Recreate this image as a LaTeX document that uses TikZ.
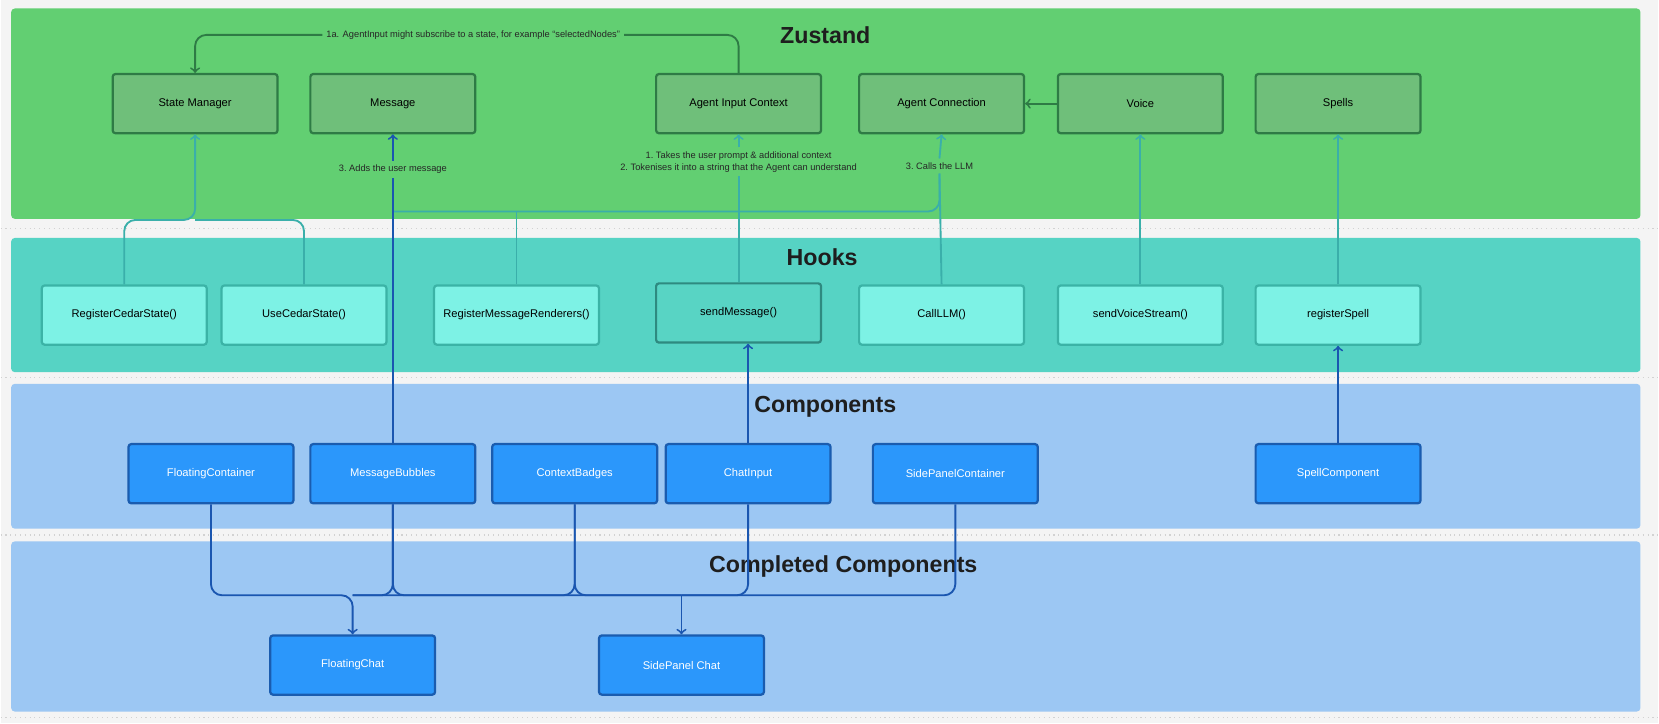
\documentclass[tikz,border=0pt]{standalone}
\usepackage{fontspec}
\setmainfont{Liberation Sans}
\usepackage{tikz}
\usepackage{xcolor}

\definecolor{bgcol}{HTML}{F4F4F4}
\definecolor{bandgreen}{HTML}{62CF72}
\definecolor{bandteal}{HTML}{56D3C4}
\definecolor{bandblue}{HTML}{9CC7F3}
\definecolor{zfill}{HTML}{6FBF7A}
\definecolor{zline}{HTML}{2E7B45}
\definecolor{hfill}{HTML}{7DF2E5}
\definecolor{hline}{HTML}{3BB3A6}
\definecolor{sfill}{HTML}{58D4C4}
\definecolor{sline}{HTML}{2E8A80}
\definecolor{cfill}{HTML}{2B97FB}
\definecolor{cline}{HTML}{1A5CAF}
\definecolor{tealline}{HTML}{3AAFAA}
\definecolor{blueline}{HTML}{1A56B0}
\definecolor{titlecol}{HTML}{1E1E1E}

\begin{document}
\begin{tikzpicture}[x=0.02cm, y=-0.02cm,
  box/.style={draw, rounded corners=1.5pt, line width=1.2pt, minimum width=3.12cm, minimum height=1.12cm, font=\fontsize{6}{7}\selectfont},
  zus/.style={box, fill=zfill, draw=zline},
  hook/.style={box, fill=hfill, draw=hline},
  comp/.style={box, fill=cfill, draw=cline, text=white},
  title/.style={font=\bfseries\fontsize{12.5}{14}\selectfont, text=titlecol},
  lbl/.style={font=\fontsize{5}{6.5}\selectfont, text=black!85, align=center, inner sep=2pt},
  gl/.style={draw=zline, line width=1pt, rounded corners=6pt},
  tl/.style={draw=tealline, line width=1pt, rounded corners=6pt},
  bl/.style={draw=blueline, line width=1pt, rounded corners=6pt}]

% background and bands
\fill[bgcol] (0,0) rectangle (1568,684);
\foreach \y in {216,357,506,679}
  \draw[gray!35, dotted, line width=0.6pt] (0,\y) -- (1568,\y);
\fill[bandgreen, rounded corners=2pt] (10,8) rectangle (1551,207);
\fill[bandteal, rounded corners=2pt] (10,225) rectangle (1551,352);
\fill[bandblue, rounded corners=2pt] (10,363) rectangle (1551,500);
\fill[bandblue, rounded corners=2pt] (10,512) rectangle (1551,673);

\node[title] (tzus) at (780,33) {Zustand};
\node[title] (thooks) at (777,243) {Hooks};
\node[title] (tcomp) at (780,385) {Components};
\node[title] (tdone) at (797,536) {Completed Components};

% zustand
\node[zus] (sm) at (184,98) {State Manager};
\node[zus] (msg) at (371,98) {Message};
\node[zus] (aic) at (698,98) {Agent Input Context};
\node[zus] (acon) at (890,98) {Agent Connection};
\node[zus] (voice) at (1078,98) {Voice};
\node[zus] (spells) at (1265,98) {Spells};

% hooks
\node[hook] (rcs) at (117,298) {RegisterCedarState()};
\node[hook] (ucs) at (287,298) {UseCedarState()};
\node[hook] (rmr) at (488,298) {RegisterMessageRenderers()};
\node[box, fill=sfill, draw=sline] (send) at (698,296) {sendMessage()};
\node[hook] (llm) at (890,298) {CallLLM()};
\node[hook] (vstream) at (1078,298) {sendVoiceStream()};
\node[hook] (rspell) at (1265,298) {registerSpell};

% components
\node[comp] (fcont) at (199,448) {FloatingContainer};
\node[comp] (bubbles) at (371,448) {MessageBubbles};
\node[comp] (badges) at (543,448) {ContextBadges};
\node[comp] (cinput) at (707,448) {ChatInput};
\node[comp] (spcont) at (903,448) {SidePanelContainer};
\node[comp] (scomp) at (1265,448) {SpellComponent};

\node[comp] (fchat) at (333,629) {FloatingChat};
\node[comp] (spchat) at (644,629) {SidePanel Chat};

% labels
\node[lbl] (lsub) at (447,33) {1a. AgentInput might subscribe to a state, for example ``selectedNodes''};
\node[lbl] (ladd) at (371,160) {3.\ Adds the user message};
\node[lbl] (ltok) at (698,153) {1.\ Takes the user prompt \& additional context\\2.\ Tokenises it into a string that the Agent can understand};
\node[lbl] (lllm) at (888,157) {3.\ Calls the LLM};

\coordinate (hbus) at (0,208);
\coordinate (tbus) at (0,200);
\coordinate (cbus) at (0,563);

% zustand arrows
\draw[gl] (aic.north) |- (lsub.east);
\draw[gl,->] (lsub.west) -| (sm.north);
\draw[gl,->] (voice.west) -- (acon.east);

% hooks to zustand
\draw[tl,->] (rcs.north) |- (hbus -| sm.south) -- (sm.south);
\draw[tl] (ucs.north) |- (hbus -| sm.south);
\draw[tl] (ladd.south |- tbus) -| (lllm.south);
\draw[tl] (rmr.north) -- (rmr.north |- tbus);
\draw[tl] (send.north) -- (ltok.south);
\draw[tl,->] (ltok.north) -- (aic.south);
\draw[tl] (llm.north) -- (lllm.south);
\draw[tl,->] (lllm.north) -- (acon.south);
\draw[tl,->] (vstream.north) -- (voice.south);
\draw[tl,->] (rspell.north) -- (spells.south);

% components up
\draw[bl] (bubbles.north) -- (ladd.south);
\draw[bl,->] (ladd.north) -- (msg.south);
\draw[bl,->] (cinput.north) -- (cinput.north |- send.south);
\draw[bl,->] (scomp.north) -- (rspell.south);

% components down
\draw[bl,->] (fcont.south) |- (cbus -| fchat.north) -- (fchat.north);
\draw[bl] (bubbles.south) |- (cbus -| fchat.north);
\draw[bl] (badges.south) |- (cbus -| fchat.north);
\draw[bl] (bubbles.south) |- (cbus -| spchat.north);
\draw[bl] (badges.south) |- (cbus -| spchat.north);
\draw[bl] (cinput.south) |- (cbus -| spchat.north);
\draw[bl] (spcont.south) |- (cbus -| spchat.north);
\draw[bl,->] (cbus -| spchat.north) -- (spchat.north);
\end{tikzpicture}
\end{document}
